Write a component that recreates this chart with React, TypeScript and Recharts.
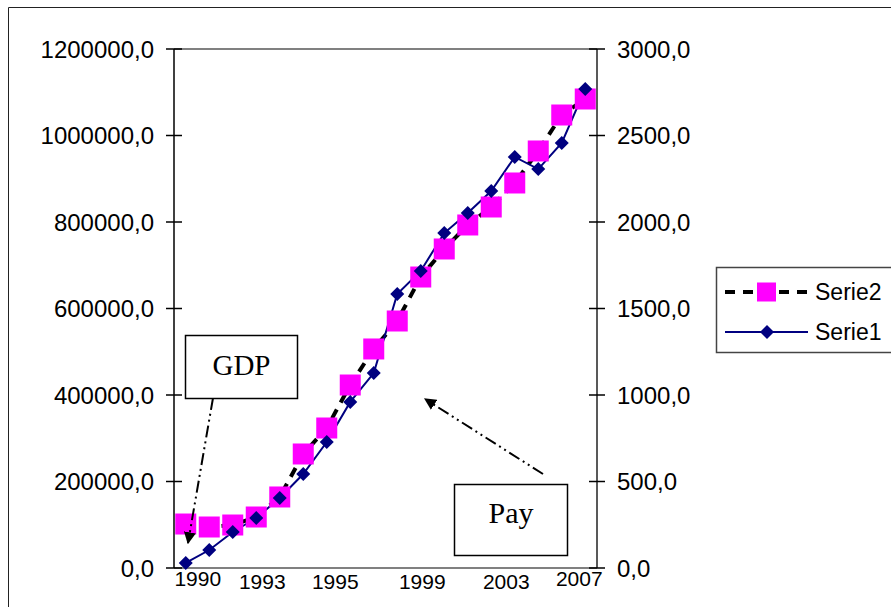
import { ComposedChart, Line, ReferenceLine, XAxis, YAxis } from 'recharts'

const years = [
  '1990', '1991', '1992', '1993', '1994', '1995', '1996', '1997', '1998',
  '1999', '2000', '2001', '2002', '2003', '2004', '2005', '2006', '2007',
]

// Serie1 -> right axis (0..3000)
const serie1 = [29, 104, 208, 289, 405, 543, 728, 960, 1127, 1584, 1717, 1936, 2052, 2179, 2376, 2306, 2457, 2769]

// Serie2 -> left axis (0..1200000)
const serie2 = [
  101700, 94800, 99400, 117900, 164200, 263600, 323700, 423100, 506400,
  571100, 672800, 737600, 793100, 834700, 890200, 964200, 1047400, 1084400,
]

const leftTicks = [0, 200000, 400000, 600000, 800000, 1000000, 1200000]
const rightTicks = [0, 500, 1000, 1500, 2000, 2500, 3000]
const yearLabels = ['1990', '1993', '1995', '1999', '2003', '2007']

const data = years.map((year, i) => ({ year, serie1: serie1[i], serie2: serie2[i] }))

// label nudges so the year texts sit where the original put them
const yearNudge: Record<string, { dx: number; dy: number }> = {
  '1990': { dx: 12, dy: 18 },
  '1993': { dx: 6, dy: 21 },
  '1995': { dx: 32, dy: 21 },
  '1999': { dx: 25, dy: 21 },
  '2003': { dx: 15, dy: 21 },
  '2007': { dx: -6, dy: 18 },
}

const FONT = '"Liberation Sans", Arial, sans-serif'
const SERIF = '"Liberation Serif", "Times New Roman", serif'

const fmt = (v: number) => v.toFixed(1).replace('.', ',')

function LeftTick({ x, y, payload }: any) {
  return (
    <g>
      <line x1={x + 12} x2={x + 28} y1={y} y2={y} stroke="#000" strokeWidth={1.5} />
      <text x={x} y={y} textAnchor="end" dominantBaseline="central" fontFamily={FONT} fontSize={24} fill="#000">
        {fmt(payload.value)}
      </text>
    </g>
  )
}

function RightTick({ x, y, payload }: any) {
  return (
    <g>
      <line x1={x - 28} x2={x - 12} y1={y} y2={y} stroke="#000" strokeWidth={1.5} />
      <text x={x} y={y} textAnchor="start" dominantBaseline="central" fontFamily={FONT} fontSize={24} fill="#000">
        {fmt(payload.value)}
      </text>
    </g>
  )
}

function YearTick({ x, y, payload }: any) {
  const n = yearNudge[payload.value] || { dx: 0, dy: 21 }
  return (
    <text x={x + n.dx} y={y + n.dy} textAnchor="middle" fontFamily={FONT} fontSize={21} fill="#000">
      {payload.value}
    </text>
  )
}

function SquareDot(p: any) {
  if (p.cx == null || p.cy == null) return <g key={`s2-${p.index}`} />
  return <rect key={`s2-${p.index}`} x={p.cx - 10.5} y={p.cy - 10.5} width={21} height={21} fill="#FF00FF" />
}

function DiamondDot(p: any) {
  if (p.cx == null || p.cy == null) return <g key={`s1-${p.index}`} />
  const { cx, cy } = p
  return (
    <polygon
      key={`s1-${p.index}`}
      points={`${cx},${cy - 7} ${cx + 7},${cy} ${cx},${cy + 7} ${cx - 7},${cy}`}
      fill="#000080"
    />
  )
}

function Overlay() {
  return (
    <svg width={891} height={607} style={{ position: 'absolute', left: 0, top: 0, pointerEvents: 'none' }}>
      <defs>
        <marker id="arrow" viewBox="0 0 10 10" refX="9" refY="5" markerWidth="6" markerHeight="6" orient="auto">
          <path d="M0,0 L10,5 L0,10 z" fill="#000" />
        </marker>
      </defs>
      {/* outer frame */}
      <path d="M8.5,607 L8.5,7.5 L891,7.5" fill="none" stroke="#222" strokeWidth={1} />

      {/* GDP callout */}
      <line x1={213} y1={398} x2={188} y2={543} stroke="#000" strokeWidth={2} strokeDasharray="12 4 2 4 2 4" markerEnd="url(#arrow)" />
      <rect x={185.5} y={335.5} width={112} height={63} fill="#fff" stroke="#000" strokeWidth={1.5} />
      <text x={241.5} y={375} textAnchor="middle" fontFamily={SERIF} fontSize={29} fill="#000">GDP</text>

      {/* Pay callout */}
      <line x1={543} y1={474} x2={425} y2={399} stroke="#000" strokeWidth={2} strokeDasharray="12 4 2 4 2 4" markerEnd="url(#arrow)" />
      <rect x={454.5} y={484.5} width={113} height={71} fill="#fff" stroke="#000" strokeWidth={1.5} />
      <text x={511} y={523} textAnchor="middle" fontFamily={SERIF} fontSize={30} fill="#000">Pay</text>

      {/* legend */}
      <rect x={716.5} y={267.5} width={200} height={85} fill="#fff" stroke="#444" strokeWidth={1.5} />
      <line x1={725} x2={808} y1={292} y2={292} stroke="#000" strokeWidth={4} strokeDasharray="10 8" />
      <rect x={757} y={282.5} width={19} height={19} fill="#FF00FF" />
      <text x={815} y={292} dominantBaseline="central" fontFamily={FONT} fontSize={23} fill="#000">Serie2</text>
      <line x1={725} x2={808} y1={332} y2={332} stroke="#000080" strokeWidth={2} />
      <polygon points="767,325 774,332 767,339 760,332" fill="#000080" />
      <text x={815} y={332} dominantBaseline="central" fontFamily={FONT} fontSize={23} fill="#000">Serie1</text>
    </svg>
  )
}

export default function App() {
  return (
    <div style={{ position: 'absolute', left: 0, top: 0, width: 891, height: 607, background: '#fff', overflow: 'hidden' }}>
      <ComposedChart width={891} height={607} data={data} margin={{ top: 49, right: 174, bottom: 0, left: 0 }}>
        <XAxis
          dataKey="year"
          ticks={yearLabels}
          interval={0}
          padding={{ left: 11.75, right: 11.75 }}
          tickLine={false}
          tickSize={0}
          tickMargin={0}
          height={39}
          axisLine={{ stroke: '#808080', strokeWidth: 2 }}
          tick={<YearTick />}
        />
        <YAxis
          yAxisId="left"
          orientation="left"
          width={174}
          domain={[0, 1200000]}
          ticks={leftTicks}
          interval={0}
          tickSize={8}
          tickMargin={12}
          tickLine={false}
          axisLine={{ stroke: '#000', strokeWidth: 1.5 }}
          tick={<LeftTick />}
        />
        <YAxis
          yAxisId="right"
          orientation="right"
          width={120}
          domain={[0, 3000]}
          ticks={rightTicks}
          interval={0}
          tickSize={8}
          tickMargin={12}
          tickLine={false}
          axisLine={{ stroke: '#222', strokeWidth: 1.5 }}
          tick={<RightTick />}
        />
        <ReferenceLine yAxisId="left" y={1200000} stroke="#808080" strokeWidth={2} />
        <Line
          yAxisId="left"
          dataKey="serie2"
          name="Serie2"
          type="linear"
          stroke="#000"
          strokeWidth={4}
          strokeDasharray="10 8"
          dot={SquareDot}
          activeDot={false}
          isAnimationActive={false}
        />
        <Line
          yAxisId="right"
          dataKey="serie1"
          name="Serie1"
          type="linear"
          stroke="#000080"
          strokeWidth={2}
          dot={DiamondDot}
          activeDot={false}
          isAnimationActive={false}
        />
      </ComposedChart>
      <Overlay />
    </div>
  )
}
